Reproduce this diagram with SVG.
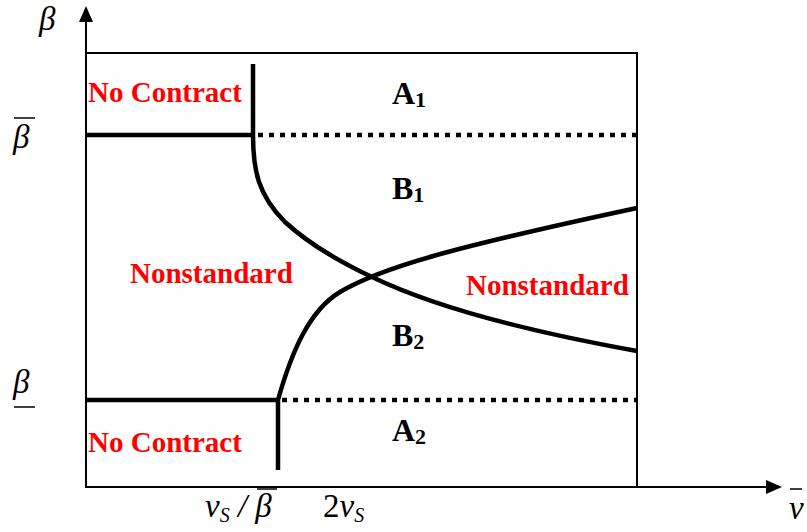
<svg xmlns="http://www.w3.org/2000/svg" width="807" height="532" viewBox="0 0 807 532">
<style>
.ax{stroke:#000;stroke-width:2;fill:none}
.thick{stroke:#000;stroke-width:4.5;fill:none}
.dot{stroke:#000;stroke-width:4.5;fill:none;stroke-dasharray:5 6}
.red{font-family:"Liberation Serif",serif;font-weight:bold;font-size:29px;fill:#ff0000}
.reg{font-family:"Liberation Serif",serif;font-weight:bold;font-size:32px;fill:#000}
.math{font-family:"Liberation Serif",serif;font-style:italic;font-size:33px;fill:#000}
.bar{stroke:#000;stroke-width:1.5}
</style>
<g id="connectors">
<rect x="86" y="53" width="551" height="434" class="ax"/>
<path d="M86,487 V8" class="ax"/>
<path d="M79,22 L86,6 L93,22 Z" fill="#000"/>
<path d="M86,487 H768" class="ax"/>
<path d="M766,480 L782,487 L766,494 Z" fill="#000"/>
<path d="M86,135 H253" class="thick"/>
<path d="M258,135 H637" class="dot"/>
<path d="M86,400 H277" class="thick"/>
<path d="M282,400 H637" class="dot"/>
<path d="M253,64 V135 C253,170 258,195 285,222 C310,245 340,262 372,277 C430,305 520,330 637,351" class="thick"/>
<path d="M278,470 V400 C292,350 310,310 340,292 C380,268 450,248 637,208" class="thick"/>
</g>
<g id="labels">
<text x="88" y="102" class="red">No Contract</text>
<text x="88" y="452" class="red">No Contract</text>
<text x="130" y="283" class="red">Nonstandard</text>
<text x="466" y="295" class="red">Nonstandard</text>
<text x="392" y="104" class="reg">A<tspan font-size="22" dy="3">1</tspan></text>
<text x="392" y="199" class="reg">B<tspan font-size="22" dy="3">1</tspan></text>
<text x="392" y="346" class="reg">B<tspan font-size="22" dy="3">2</tspan></text>
<text x="392" y="441" class="reg">A<tspan font-size="22" dy="3">2</tspan></text>
<text x="39" y="30" class="math">β</text>
<line x1="14" y1="118" x2="35" y2="118" class="bar"/>
<text x="13" y="148" class="math">β</text>
<text x="13" y="393" class="math">β</text>
<line x1="14" y1="407" x2="35" y2="407" class="bar"/>
<text x="205" y="517" class="math" font-size="30">v<tspan font-size="20" dy="5">S</tspan><tspan dy="-5"> / β</tspan></text>
<line x1="257" y1="489" x2="277" y2="489" class="bar"/>
<text x="323" y="517" class="math" font-size="30"><tspan font-style="normal">2</tspan>v<tspan font-size="20" dy="5">S</tspan></text>
<line x1="790" y1="489" x2="802" y2="489" class="bar"/>
<text x="789" y="519" class="math" font-size="30">v</text>
</g>
</svg>
